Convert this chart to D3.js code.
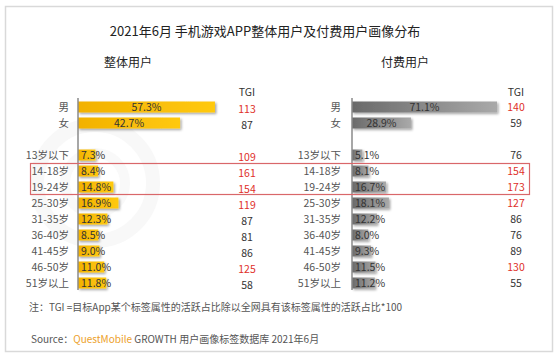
<!DOCTYPE html>
<html><head><meta charset="utf-8">
<script src="https://cdn.jsdelivr.net/npm/d3@7"></script>
<style>
html,body{margin:0;padding:0;background:#fff;}
text{font-family:"Microsoft YaHei","Noto Sans CJK SC",sans-serif;}
</style></head>
<body>
<svg id="c" width="558" height="357"></svg>
<script>
const genders = ["男","女"];
const ages = ["13岁以下","14-18岁","19-24岁","25-30岁","31-35岁","36-40岁","41-45岁","46-50岁","51岁以上"];
const allGender = [57.3, 42.7];
const allAge = [7.3, 8.4, 14.8, 16.9, 12.3, 8.5, 9.0, 11.0, 11.8];
const allGenderTGI = [113, 87];
const allAgeTGI = [109, 161, 154, 119, 87, 81, 86, 125, 58];
const payGender = [71.1, 28.9];
const payAge = [5.1, 8.1, 16.7, 18.1, 12.2, 8.0, 9.3, 11.5, 11.2];
const payGenderTGI = [140, 59];
const payAgeTGI = [76, 154, 173, 127, 86, 76, 89, 130, 55];

const svg = d3.select("#c");
const defs = svg.append("defs");
const f = defs.append("filter").attr("id","sh").attr("x","-10%").attr("y","-50%").attr("width","130%").attr("height","220%");
f.append("feDropShadow").attr("dx",1.5).attr("dy",1.5).attr("stdDeviation",1.2).attr("flood-color","#000").attr("flood-opacity",0.35);
const g1 = defs.append("linearGradient").attr("id","gO");
g1.append("stop").attr("offset","0%").attr("stop-color","#F2B100");
g1.append("stop").attr("offset","100%").attr("stop-color","#FFC910");
const g2 = defs.append("linearGradient").attr("id","gG");
g2.append("stop").attr("offset","0%").attr("stop-color","#6a6a6a");
g2.append("stop").attr("offset","100%").attr("stop-color","#a9a9a9");

// frame
svg.append("rect").attr("x",5.5).attr("y",6.5).attr("width",547).attr("height",345)
  .attr("fill","#fff").attr("stroke","#d9d9d9").attr("stroke-width",1.5);

// faint watermark logo
const wm = svg.append("g");
wm.append("circle").attr("cx",95).attr("cy",183).attr("r",58).attr("fill","none").attr("stroke","#f8f8f8").attr("stroke-width",14);
wm.append("circle").attr("cx",95).attr("cy",183).attr("r",30).attr("fill","none").attr("stroke","#f9f9f9").attr("stroke-width",10);

// titles
svg.append("text").attr("x",265).attr("y",36).attr("text-anchor","middle").attr("font-size",13).attr("fill","#222")
  .text("2021年6月 手机游戏APP整体用户及付费用户画像分布");
svg.append("text").attr("x",128).attr("y",67).attr("text-anchor","middle").attr("font-size",12).attr("fill","#222").text("整体用户");
svg.append("text").attr("x",405).attr("y",67).attr("text-anchor","middle").attr("font-size",12).attr("fill","#222").text("付费用户");

const yIdx = d3.scaleLinear().domain([0,11]).range([107,283]);
const barH = 11;

function panel(cfg){
  const x = d3.scaleLinear().domain([0,100]).range([cfg.x0, cfg.x0 + cfg.w100]);
  const g = svg.append("g");
  const rows = genders.map((c,i)=>({c, v:cfg.gv[i], t:cfg.gt[i], idx:i, gender:true}))
    .concat(ages.map((c,i)=>({c, v:cfg.av[i], t:cfg.at[i], idx:i+3, gender:false})));
  g.selectAll("rect.bar").data(rows).join("rect").attr("class","bar")
    .attr("x",x(0)).attr("y",d=>yIdx(d.idx)-barH/2).attr("width",d=>x(d.v)-x(0)).attr("height",barH)
    .attr("fill",cfg.fill).attr("filter","url(#sh)");
  g.append("line").attr("x1",x(0)).attr("x2",x(0)).attr("y1",98).attr("y2",290).attr("stroke","#8a8a8a").attr("stroke-width",1.5);
  g.selectAll("text.cat").data(rows).join("text").attr("class","cat")
    .attr("x",cfg.labelX).attr("y",d=>yIdx(d.idx)).attr("dy","0.35em").attr("text-anchor","end")
    .attr("font-size",10.5).attr("fill","#555").text(d=>d.c);
  g.selectAll("text.val").data(rows).join("text").attr("class","val")
    .attr("x",d=>d.gender ? (x(0)+x(d.v))/2 : x(0)+3)
    .attr("y",d=>yIdx(d.idx)).attr("dy","0.36em")
    .attr("text-anchor",d=>d.gender?"middle":"start")
    .attr("font-size",10.5).attr("fill","#333").text(d=>d.v.toFixed(1)+"%");
  g.append("text").attr("x",cfg.tgiX).attr("y",92).attr("dy","0.35em").attr("text-anchor","middle")
    .attr("font-size",10.5).attr("fill","#333").text("TGI");
  g.selectAll("text.tgi").data(rows).join("text").attr("class","tgi")
    .attr("x",cfg.tgiX).attr("y",d=>yIdx(d.idx)+cfg.tgiDy).attr("dy","0.35em").attr("text-anchor","middle")
    .attr("font-size",10.5).attr("fill",d=>d.t>100?"#e0302a":"#333").text(d=>d.t);
}
panel({x0:78, w100:239, fill:"url(#gO)", gv:allGender, av:allAge, gt:allGenderTGI, at:allAgeTGI, labelX:69, tgiX:247, tgiDy:2});
panel({x0:352, w100:204, fill:"url(#gG)", gv:payGender, av:payAge, gt:payGenderTGI, at:payAgeTGI, labelX:341, tgiX:516, tgiDy:0});

// highlight box
svg.append("rect").attr("x",30.5).attr("y",163.5).attr("width",499).attr("height",31)
  .attr("fill","none").attr("stroke","#d9676a").attr("stroke-width",1.2);

// notes
svg.append("text").attr("x",29).attr("y",311).attr("font-size",10).attr("fill","#555")
  .text("注：TGI =目标App某个标签属性的活跃占比除以全网具有该标签属性的活跃占比*100");
const src = svg.append("text").attr("x",31).attr("y",343).attr("font-size",10).attr("fill","#555");
src.append("tspan").text("Source：");
src.append("tspan").attr("fill","#EDA12A").text("QuestMobile");
src.append("tspan").text(" GROWTH 用户画像标签数据库 2021年6月");
</script>
</body></html>
